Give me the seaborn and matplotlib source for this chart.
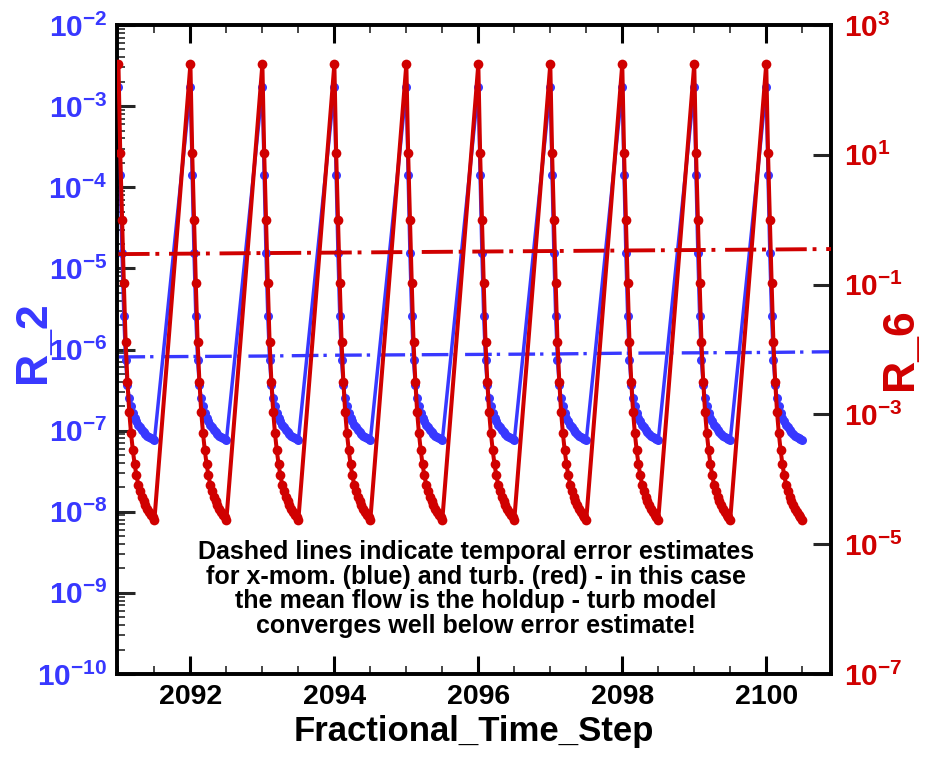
import numpy as np
import pandas as pd
import matplotlib
matplotlib.use("Agg")
import matplotlib.pyplot as plt
import matplotlib.ticker as mticker
import seaborn as sns

# -----------------------------------------------------------------
# Datos
# -----------------------------------------------------------------
time_steps = [2091, 2092, 2093, 2094, 2095, 2096, 2097, 2098, 2099, 2100]

# sub-iteraciones dentro de cada paso de tiempo (fraccion del paso)
sub_offsets = [0.0, 0.025, 0.05, 0.075, 0.1, 0.125, 0.15, 0.175, 0.2, 0.225, 0.25,
               0.275, 0.3, 0.325, 0.35, 0.375, 0.4, 0.425, 0.45, 0.475, 0.5]

# residuo x-mom (R_2) en un ciclo
r2_cycle = [1.7e-3, 1.4e-4, 1.55e-5, 2.6e-6, 7.4e-7, 3.6e-7, 2.5e-7, 2.0e-7, 1.66e-7,
            1.45e-7, 1.3e-7, 1.18e-7, 1.1e-7, 1.03e-7, 9.6e-8, 9.1e-8, 8.7e-8, 8.3e-8,
            8.0e-8, 7.8e-8, 7.6e-8]

# residuo turb (R_6) en un ciclo
r6_cycle = [250.0, 10.7, 1.0, 0.105, 1.3e-2, 3.2e-3, 1.1e-3, 5.1e-4, 2.8e-4, 1.7e-4,
            1.15e-4, 8.3e-5, 6.6e-5, 5.4e-5, 4.6e-5, 4.0e-5, 3.5e-5, 3.1e-5, 2.8e-5,
            2.6e-5, 2.4e-5]

# estimaciones del error temporal (lineas de trazo-punto)
err_steps = [2091, 2092, 2093, 2094, 2095, 2096, 2097, 2098, 2099, 2100, 2101]
err_r2 = [8.1e-7, 8.2e-7, 8.3e-7, 8.5e-7, 8.6e-7, 8.7e-7, 8.8e-7, 9.0e-7, 9.1e-7, 9.2e-7, 9.4e-7]
err_r6 = [0.295, 0.300, 0.306, 0.311, 0.317, 0.323, 0.329, 0.335, 0.341, 0.347, 0.354]

# ticks de los ejes
left_ticks = [1e-10, 1e-9, 1e-8, 1e-7, 1e-6, 1e-5, 1e-4, 1e-3, 1e-2]
right_ticks = [1e-7, 1e-5, 1e-3, 1e-1, 1e1, 1e3]

note = ("Dashed lines indicate temporal error estimates\n"
        "for x-mom. (blue) and turb. (red) - in this case\n"
        "the mean flow is the holdup - turb model\n"
        "converges well below error estimate!")

BLUE = "#3838ff"
RED = "#d00000"

# -----------------------------------------------------------------
# Armar el DataFrame
# -----------------------------------------------------------------
filas = []
for ts in time_steps:
    for off, a, b in zip(sub_offsets, r2_cycle, r6_cycle):
        filas.append({"t": ts + off, "R_2": a, "R_6": b})
df = pd.DataFrame(filas)
df_err = pd.DataFrame({"t": err_steps, "e2": err_r2, "e6": err_r6})

# -----------------------------------------------------------------
# Estilo
# -----------------------------------------------------------------
sns.set_style("white")
plt.rcParams["font.family"] = ["Liberation Sans", "DejaVu Sans"]
plt.rcParams["font.weight"] = "bold"
plt.rcParams["text.color"] = "black"
plt.rcParams["axes.labelcolor"] = "black"
plt.rcParams["mathtext.fontset"] = "custom"
plt.rcParams["mathtext.rm"] = "Liberation Sans:bold"
plt.rcParams["mathtext.bf"] = "Liberation Sans:bold"
plt.rcParams["mathtext.it"] = "Liberation Sans:bold:italic"

fig = plt.figure(figsize=(9.36, 7.57), dpi=100)
ax = fig.add_axes([117 / 936, 1 - 674 / 757, 714 / 936, 649 / 757])
ax2 = ax.twinx()

# residuos
sns.lineplot(data=df, x="t", y="R_2", ax=ax, color=BLUE, linewidth=2.5,
             marker="o", markersize=6.5, markeredgewidth=0, estimator=None, sort=False, zorder=3)
sns.lineplot(data=df, x="t", y="R_6", ax=ax2, color=RED, linewidth=2.9,
             marker="o", markersize=7, markeredgewidth=0, estimator=None, sort=False, zorder=4)

# estimaciones de error
ax.plot(df_err["t"], df_err["e2"], color=BLUE, linewidth=2.4, dashes=(8, 1.5, 1, 2.5), zorder=5)
ax2.plot(df_err["t"], df_err["e6"], color=RED, linewidth=2.8, dashes=(8, 1.5, 1, 2.5), zorder=5)

ax.set_yscale("log")
ax2.set_yscale("log")
ax.set_ylim(1e-10, 1e-2)
ax2.set_ylim(1e-7, 1e3)
ax.set_xlim(2090.98, 2100.9)


def fmt_pot(v, pos):
    return r"$\mathbf{10^{%d}}$" % int(round(np.log10(v)))


ax.yaxis.set_major_locator(mticker.FixedLocator(left_ticks))
ax.yaxis.set_minor_locator(mticker.LogLocator(base=10, subs=np.arange(2, 10), numticks=20))
ax.yaxis.set_major_formatter(mticker.FuncFormatter(fmt_pot))
ax.yaxis.set_minor_formatter(mticker.NullFormatter())

ax2.yaxis.set_major_locator(mticker.FixedLocator(right_ticks))
ax2.yaxis.set_minor_locator(mticker.NullLocator())
ax2.yaxis.set_major_formatter(mticker.FuncFormatter(fmt_pot))

ax.xaxis.set_major_locator(mticker.MultipleLocator(2))
ax.xaxis.set_minor_locator(mticker.MultipleLocator(0.5))

ax.tick_params(axis="x", which="major", direction="in", length=13, width=2.2,
               top=True, bottom=True, labelsize=20.5, pad=7, colors="black")
ax.tick_params(axis="x", which="minor", direction="in", length=6, width=1.2, top=True, bottom=True)
ax.tick_params(axis="y", which="major", direction="in", length=13, width=2.2,
               left=True, right=False, labelsize=21.5, labelcolor=BLUE, pad=7)
ax.tick_params(axis="y", which="minor", direction="in", length=6, width=1.2, left=True, right=False)
ax2.tick_params(axis="y", which="major", direction="in", length=13, width=2.2,
                right=True, left=False, labelsize=21.5, labelcolor=RED, pad=9)

for a in (ax, ax2):
    for sp in a.spines.values():
        sp.set_linewidth(2.6)
        sp.set_color("black")

ax.set_xlabel("Fractional_Time_Step", fontsize=25, fontweight="bold", color="black", labelpad=4)
ax2.set_xlabel("")
ax.set_ylabel("R_2", fontsize=32, fontweight="bold", color=BLUE)
ax.yaxis.set_label_coords(-0.088, 0.512)
ax2.set_ylabel("R_6", fontsize=32, fontweight="bold", color=RED, rotation=90)
ax2.yaxis.set_label_coords(1.0686, 0.5)

ax.text(0.503, 0.131, note, transform=ax.transAxes, ha="center", va="center",
        fontsize=18, fontweight="bold", color="black", linespacing=1.03, zorder=6)

fig.savefig("out.png", dpi=100)
